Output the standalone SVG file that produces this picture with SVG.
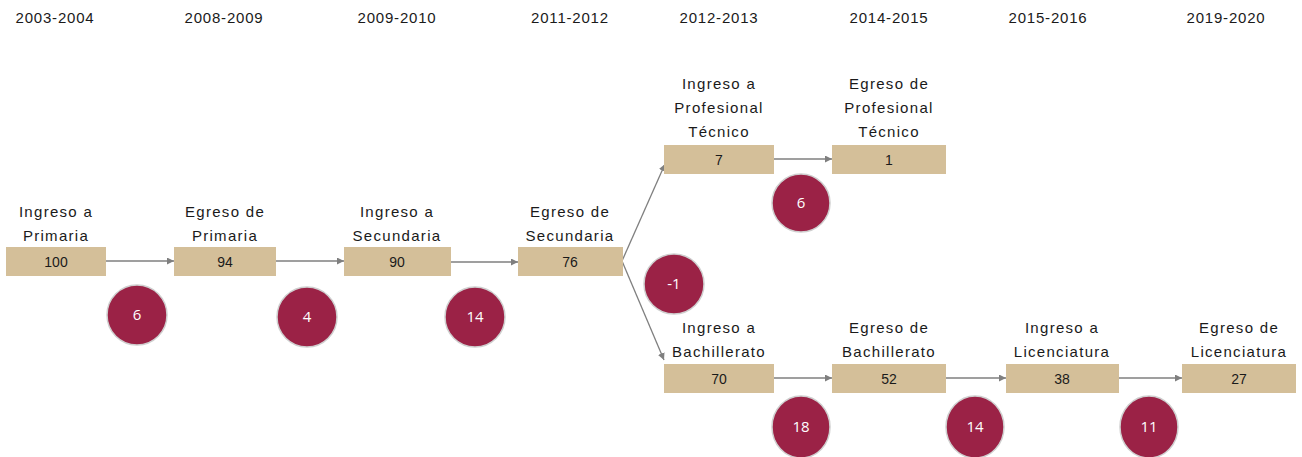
<svg xmlns="http://www.w3.org/2000/svg" width="1302" height="457" viewBox="0 0 1302 457">
<defs>
<style>
.yr{font-family:"Liberation Sans",Arial,sans-serif;font-size:15px;fill:#1a1a1a;text-anchor:middle;letter-spacing:0.8px}
.lb{font-family:"Liberation Sans",Arial,sans-serif;font-size:15px;fill:#1a1a1a;text-anchor:middle;letter-spacing:1.3px}
.num{font-family:"Liberation Sans",Arial,sans-serif;font-size:14px;fill:#1a1a1a;text-anchor:middle}
.box{fill:#D4BF99}
.cir{fill:#9B2246;stroke:#CFCFCF;stroke-width:1.5}
.ct{font-family:"Open Sans","Liberation Sans",sans-serif;font-size:15px;fill:#ffffff;text-anchor:middle}
.ln{stroke:#7F7F7F;stroke-width:1.3;fill:none;marker-end:url(#ah)}
</style>
<marker id="ah" viewBox="0 0 10 10" refX="10" refY="5" markerWidth="7" markerHeight="7" markerUnits="userSpaceOnUse" orient="auto">
<path d="M0,0 L10,5 L0,10 z" fill="#7F7F7F"/>
</marker>
</defs>
<rect width="1302" height="457" fill="#ffffff"/>
<g id="years">
<text class="yr" x="55" y="23">2003-2004</text>
<text class="yr" x="224" y="23">2008-2009</text>
<text class="yr" x="397" y="23">2009-2010</text>
<text class="yr" x="570" y="23">2011-2012</text>
<text class="yr" x="719" y="23">2012-2013</text>
<text class="yr" x="889" y="23">2014-2015</text>
<text class="yr" x="1048" y="23">2015-2016</text>
<text class="yr" x="1226" y="23">2019-2020</text>
</g>
<g id="connectors">
<line class="ln" x1="106" y1="261" x2="174" y2="261"/>
<line class="ln" x1="276" y1="261" x2="344" y2="261"/>
<line class="ln" x1="451" y1="262" x2="518" y2="262"/>
<polyline class="ln" points="622,261 665,164"/>
<polyline class="ln" points="622,261 664,360"/>
<line class="ln" x1="774" y1="159" x2="832" y2="159"/>
<line class="ln" x1="774" y1="378" x2="832" y2="378"/>
<line class="ln" x1="946" y1="378" x2="1006" y2="378"/>
<line class="ln" x1="1119" y1="378" x2="1182" y2="378"/>
</g>
<g id="n-ingreso-primaria">
<text class="lb" x="56" y="217">Ingreso a</text>
<text class="lb" x="56" y="241">Primaria</text>
<rect class="box" x="6" y="247" width="100" height="29"/>
<text class="num" x="56" y="267">100</text>
</g>
<g id="n-egreso-primaria">
<text class="lb" x="225" y="217">Egreso de</text>
<text class="lb" x="225" y="241">Primaria</text>
<rect class="box" x="174" y="247" width="102" height="29"/>
<text class="num" x="225" y="267">94</text>
</g>
<g id="n-ingreso-secundaria">
<text class="lb" x="397" y="217">Ingreso a</text>
<text class="lb" x="397" y="241">Secundaria</text>
<rect class="box" x="344" y="247" width="107" height="29"/>
<text class="num" x="397" y="267">90</text>
</g>
<g id="n-egreso-secundaria">
<text class="lb" x="570" y="217">Egreso de</text>
<text class="lb" x="570" y="241">Secundaria</text>
<rect class="box" x="518" y="247" width="105" height="29"/>
<text class="num" x="570" y="267">76</text>
</g>
<g id="n-ingreso-pt">
<text class="lb" x="719" y="89">Ingreso a</text>
<text class="lb" x="719" y="113">Profesional</text>
<text class="lb" x="719" y="137">Técnico</text>
<rect class="box" x="664" y="145" width="110" height="29"/>
<text class="num" x="719" y="165">7</text>
</g>
<g id="n-egreso-pt">
<text class="lb" x="889" y="89">Egreso de</text>
<text class="lb" x="889" y="113">Profesional</text>
<text class="lb" x="889" y="137">Técnico</text>
<rect class="box" x="832" y="145" width="114" height="29"/>
<text class="num" x="889" y="165">1</text>
</g>
<g id="n-ingreso-bach">
<text class="lb" x="719" y="333">Ingreso a</text>
<text class="lb" x="719" y="357">Bachillerato</text>
<rect class="box" x="664" y="364" width="110" height="29"/>
<text class="num" x="719" y="384">70</text>
</g>
<g id="n-egreso-bach">
<text class="lb" x="889" y="333">Egreso de</text>
<text class="lb" x="889" y="357">Bachillerato</text>
<rect class="box" x="832" y="364" width="114" height="29"/>
<text class="num" x="889" y="384">52</text>
</g>
<g id="n-ingreso-lic">
<text class="lb" x="1062" y="333">Ingreso a</text>
<text class="lb" x="1062" y="357">Licenciatura</text>
<rect class="box" x="1006" y="364" width="113" height="29"/>
<text class="num" x="1062" y="384">38</text>
</g>
<g id="n-egreso-lic">
<text class="lb" x="1239" y="333">Egreso de</text>
<text class="lb" x="1239" y="357">Licenciatura</text>
<rect class="box" x="1182" y="364" width="114" height="29"/>
<text class="num" x="1239" y="384">27</text>
</g>
<g id="c-6a"><circle class="cir" cx="137" cy="315" r="30"/><text class="ct" x="137" y="320">6</text></g>
<g id="c-4"><circle class="cir" cx="307" cy="317" r="30"/><text class="ct" x="307" y="322">4</text></g>
<g id="c-14a"><circle class="cir" cx="475" cy="317" r="30"/><text class="ct" x="475" y="322">14</text></g>
<g id="c-m1"><circle class="cir" cx="674" cy="284" r="30"/><text class="ct" x="674" y="289">-1</text></g>
<g id="c-6b"><circle class="cir" cx="801" cy="203" r="29"/><text class="ct" x="801" y="208">6</text></g>
<g id="c-18"><ellipse class="cir" cx="801" cy="427" rx="29" ry="31"/><text class="ct" x="801" y="432">18</text></g>
<g id="c-14b"><ellipse class="cir" cx="975" cy="427" rx="29" ry="31"/><text class="ct" x="975" y="432">14</text></g>
<g id="c-11"><ellipse class="cir" cx="1149" cy="427" rx="29" ry="31"/><text class="ct" x="1149" y="432">11</text></g>
</svg>
